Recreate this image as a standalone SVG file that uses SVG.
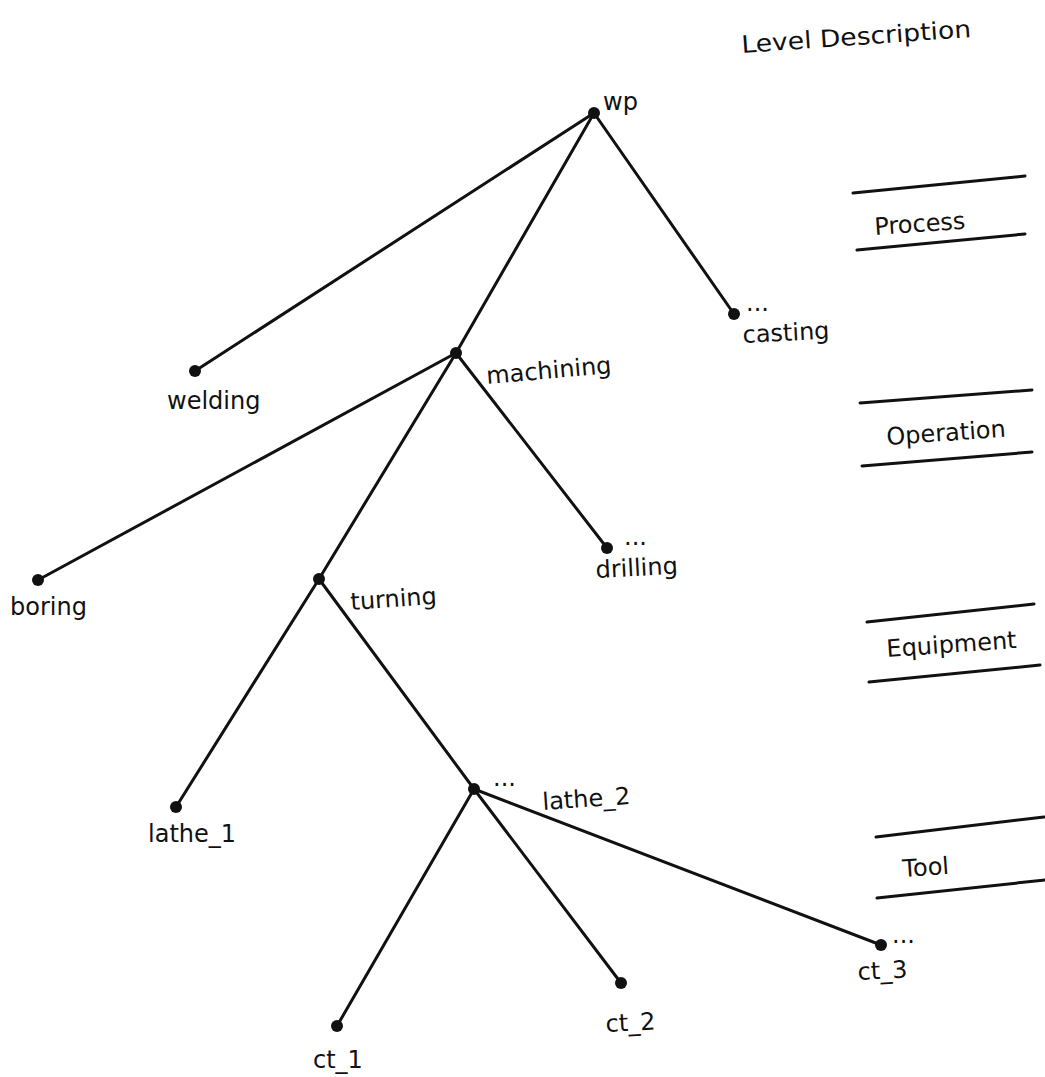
<svg xmlns="http://www.w3.org/2000/svg" width="1045" height="1077" viewBox="0 0 1045 1077">
<style>
.e{stroke:#111;stroke-width:3;fill:none;stroke-linecap:round}
.lv{stroke:#111;stroke-width:3;fill:none;stroke-linecap:round}
.n{fill:#111}
text{font-family:"DejaVu Sans","Liberation Sans",sans-serif;font-size:24px;fill:#111}
</style>
<rect width="1045" height="1077" fill="#fff"/>
<g id="connectors">
<line class="e" x1="594" y1="113" x2="195" y2="371"/>
<line class="e" x1="594" y1="113" x2="456" y2="353"/>
<line class="e" x1="594" y1="113" x2="734" y2="314"/>
<line class="e" x1="456" y1="353" x2="38" y2="580"/>
<line class="e" x1="456" y1="353" x2="319" y2="579"/>
<line class="e" x1="456" y1="353" x2="607" y2="548"/>
<line class="e" x1="319" y1="579" x2="176" y2="807"/>
<line class="e" x1="319" y1="579" x2="474" y2="789"/>
<line class="e" x1="474" y1="789" x2="337" y2="1026"/>
<line class="e" x1="474" y1="789" x2="621" y2="983"/>
<line class="e" x1="474" y1="789" x2="881" y2="945"/>
</g>
<g id="wp"><circle class="n" cx="594" cy="113" r="6"/><text x="603" y="110">wp</text></g>
<g id="welding"><circle class="n" cx="195" cy="371" r="6"/><text x="167" y="409">welding</text></g>
<g id="machining"><circle class="n" cx="456" cy="353" r="6"/><text x="487" y="384" transform="rotate(-5 487 384)">machining</text></g>
<g id="casting"><circle class="n" cx="734" cy="314" r="6"/><text x="746" y="311">...</text><text x="743" y="343" transform="rotate(-3 743 343)">casting</text></g>
<g id="boring"><circle class="n" cx="38" cy="580" r="6"/><text x="10" y="615">boring</text></g>
<g id="drilling"><circle class="n" cx="607" cy="548" r="6"/><text x="624" y="545">...</text><text x="596" y="578" transform="rotate(-3 596 578)">drilling</text></g>
<g id="turning"><circle class="n" cx="319" cy="579" r="6"/><text x="351" y="610" transform="rotate(-4 351 610)">turning</text></g>
<g id="lathe_1"><circle class="n" cx="176" cy="807" r="6"/><text x="148" y="842">lathe_1</text></g>
<g id="lathe_2"><circle class="n" cx="474" cy="789" r="6"/><text x="493" y="786">...</text><text x="543" y="810" transform="rotate(-4 543 810)">lathe_2</text></g>
<g id="ct_1"><circle class="n" cx="337" cy="1026" r="6"/><text x="313" y="1068">ct_1</text></g>
<g id="ct_2"><circle class="n" cx="621" cy="983" r="6"/><text x="606" y="1032" transform="rotate(-3 606 1032)">ct_2</text></g>
<g id="ct_3"><circle class="n" cx="881" cy="945" r="6"/><text x="892" y="943">...</text><text x="858" y="980" transform="rotate(-3 858 980)">ct_3</text></g>
<g id="levels">
<text x="742" y="53" textLength="230" lengthAdjust="spacingAndGlyphs" transform="rotate(-4 742 53)">Level Description</text>
<line class="lv" x1="853" y1="193" x2="1025" y2="176"/>
<text x="875" y="235" transform="rotate(-4 875 235)">Process</text>
<line class="lv" x1="857" y1="250" x2="1025" y2="234"/>
<line class="lv" x1="860" y1="403" x2="1032" y2="390"/>
<text x="887" y="445" transform="rotate(-4 887 445)">Operation</text>
<line class="lv" x1="862" y1="466" x2="1032" y2="452"/>
<line class="lv" x1="867" y1="622" x2="1034" y2="604"/>
<text x="887" y="657" transform="rotate(-4 887 657)">Equipment</text>
<line class="lv" x1="869" y1="682" x2="1040" y2="665"/>
<line class="lv" x1="876" y1="837" x2="1044" y2="817"/>
<text x="903" y="877" transform="rotate(-4 903 877)">Tool</text>
<line class="lv" x1="877" y1="898" x2="1045" y2="880"/>
</g>
</svg>
